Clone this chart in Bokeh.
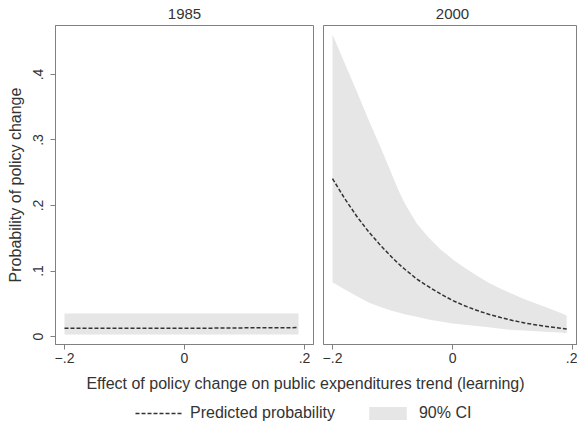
from bokeh.plotting import figure
from bokeh.layouts import column, row
from bokeh.models import FixedTicker, Label, Legend, LegendItem, ColumnDataSource, Range1d
from bokeh.embed import file_html
from bokeh.resources import INLINE

# ---- data ----
panels = ["1985", "2000"]
x_1985 = [-0.2, -0.15, -0.1, -0.05, 0.0, 0.05, 0.1, 0.15, 0.19]
pred_1985 = [0.0125, 0.0125, 0.0126, 0.0126, 0.0127, 0.0128, 0.0132, 0.0134, 0.0136]
lo_1985 = [0.003, 0.003, 0.003, 0.003, 0.003, 0.003, 0.003, 0.003, 0.003]
hi_1985 = [0.035, 0.035, 0.035, 0.035, 0.035, 0.035, 0.035, 0.035, 0.035]

x_2000 = [-0.2, -0.18, -0.16, -0.14, -0.12, -0.1, -0.09, -0.08, -0.07, -0.06, -0.04, -0.02, 0.0,
          0.02, 0.04, 0.06, 0.08, 0.1, 0.12, 0.14, 0.16, 0.18, 0.19]
pred_2000 = [0.241, 0.211, 0.184, 0.160, 0.139, 0.120, 0.111, 0.103, 0.0955, 0.088, 0.076, 0.065, 0.055,
             0.047, 0.040, 0.034, 0.029, 0.0245, 0.0207, 0.0176, 0.0149, 0.0126, 0.0116]
lo_2000 = [0.083, 0.072, 0.062, 0.052, 0.045, 0.039, 0.0365, 0.034, 0.032, 0.030, 0.026, 0.023, 0.020,
           0.018, 0.016, 0.014, 0.012, 0.010, 0.009, 0.008, 0.007, 0.006, 0.005]
hi_2000 = [0.461, 0.418, 0.375, 0.331, 0.289, 0.245, 0.223, 0.204, 0.188, 0.173, 0.151, 0.133, 0.118,
           0.105, 0.093, 0.082, 0.073, 0.065, 0.057, 0.050, 0.043, 0.036, 0.032]

y_ticks = [0, 0.1, 0.2, 0.3, 0.4]
y_tick_labels = ["0", ".1", ".2", ".3", ".4"]
x_ticks = [-0.2, 0, 0.2]
x_tick_labels = ["\u2212.2", "0", ".2"]

y_label = "Probability of policy change"
x_label = "Effect of policy change on public expenditures trend (learning)"
legend_labels = ["Predicted probability", "90% CI"]

FONT = "Liberation Sans"
TXT = "#333333"
FRAME = "#808080"
CI_FILL = "#e6e6e6"
LINE = "#333333"

y_range = Range1d(-0.0122, 0.4748)


def strip(width, height):
    s = figure(width=width, height=height, output_backend="svg", toolbar_location=None,
               x_range=Range1d(0, width), y_range=Range1d(0, height),
               x_axis_location=None, y_axis_location=None,
               min_border=0, min_border_left=0, min_border_right=0,
               min_border_top=0, min_border_bottom=0)
    s.grid.visible = False
    s.outline_line_color = None
    return s


def make_panel(xs, pred, lo, hi, width, border_left, border_right, x_range, show_y):
    p = figure(width=width, height=344, output_backend="svg", toolbar_location=None,
               x_range=x_range, y_range=y_range,
               y_axis_location="left" if show_y else None,
               min_border_left=border_left, min_border_right=border_right,
               min_border_top=1, min_border_bottom=24)
    p.grid.visible = False
    p.outline_line_color = FRAME
    p.outline_line_width = 1
    p.background_fill_color = "white"
    p.border_fill_color = "white"

    src = ColumnDataSource(dict(x=xs, pred=pred, lo=lo, hi=hi))
    p.varea(x="x", y1="lo", y2="hi", source=src, fill_color=CI_FILL)
    p.line(x="x", y="pred", source=src, line_color=LINE, line_width=1.5, line_dash="4 2")

    axes = [p.xaxis[0]] + ([p.yaxis[0]] if show_y else [])
    for ax in axes:
        ax.axis_line_color = FRAME
        ax.major_tick_line_color = FRAME
        ax.major_tick_out = 5
        ax.major_tick_in = 0
        ax.minor_tick_line_color = None
        ax.major_label_text_font = FONT
        ax.major_label_text_font_size = "14px"
        ax.major_label_text_color = TXT
        ax.major_label_standoff = 3
    p.xaxis.ticker = FixedTicker(ticks=x_ticks)
    p.xaxis.major_label_overrides = {t: l for t, l in zip(x_ticks, x_tick_labels)}
    if show_y:
        p.yaxis.ticker = FixedTicker(ticks=y_ticks)
        p.yaxis.major_label_overrides = {t: l for t, l in zip(y_ticks, y_tick_labels)}
        p.yaxis.major_label_orientation = "vertical"
        p.yaxis.major_label_standoff = 7
        p.yaxis.axis_label = y_label
        p.yaxis.axis_label_text_font = FONT
        p.yaxis.axis_label_text_font_size = "16px"
        p.yaxis.axis_label_text_font_style = "normal"
        p.yaxis.axis_label_text_color = TXT
        p.yaxis.axis_label_standoff = 7
    return p


# top strip: panel titles
pt = strip(577, 24)
for name, cx in zip(panels, [184, 452]):
    pt.add_layout(Label(x=cx, y=11, text=name, text_align="center", text_baseline="middle",
                        text_font=FONT, text_font_size="15px", text_color=TXT))

p1 = make_panel(x_1985, pred_1985, lo_1985, hi_1985, 318, 55, 5,
                Range1d(-0.215, 0.215), True)
p2 = make_panel(x_2000, pred_2000, lo_2000, hi_2000, 259, 5, 0,
                Range1d(-0.215, 0.208), False)

# bottom strip: common x label and legend
pb = strip(577, 57)
pb.add_layout(Label(x=305, y=42, text=x_label, text_align="center", text_baseline="middle",
                    text_font=FONT, text_font_size="16px", text_color=TXT))

# off-screen placeholder renderers that only feed the legend swatches
dummy = ColumnDataSource(dict(x=[-100, -90], y=[-100, -100], y1=[-100, -100], y2=[-95, -95]))
r_line = pb.line(x="x", y="y", source=dummy, line_color=LINE, line_width=1.5, line_dash="4 2")
r_area = pb.varea(x="x", y1="y1", y2="y2", source=dummy, fill_color=CI_FILL)
legend = Legend(items=[LegendItem(label=legend_labels[0], renderers=[r_line]),
                       LegendItem(label=legend_labels[1], renderers=[r_area])],
                orientation="horizontal", location=(135, 3),
                glyph_width=47, glyph_height=16, label_height=16, label_standoff=8,
                spacing=29, padding=0, margin=0,
                border_line_color=None, background_fill_alpha=0,
                label_text_font=FONT, label_text_font_size="16px", label_text_color=TXT)
pb.add_layout(legend)

layout = column(pt, row(p1, p2), pb)
open("out.html", "w").write(file_html(layout, INLINE))
